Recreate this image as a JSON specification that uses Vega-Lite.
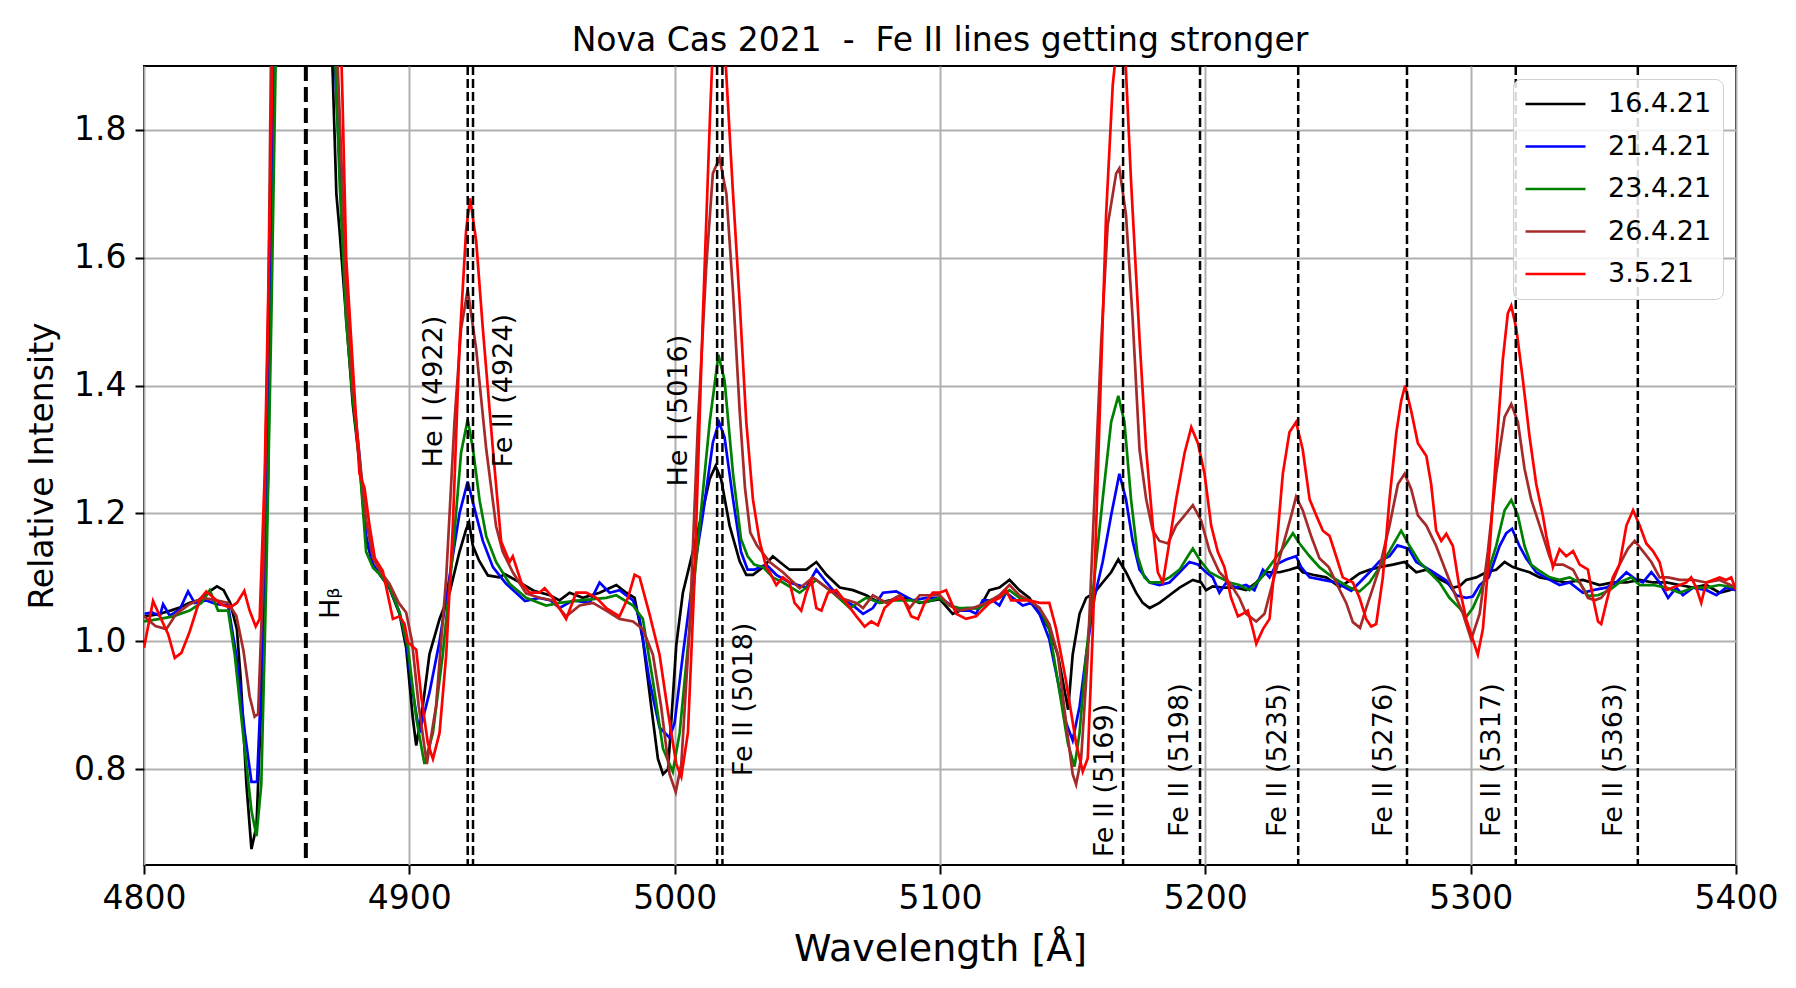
{
"$schema":"https://vega.github.io/schema/vega-lite/v6.json",
"autosize":{"type":"none"},
"padding":{"left":144,"top":66,"right":60,"bottom":123},
"width":1592,"height":799,
"background":"white",
"title":{"text":"Nova Cas 2021 \u00a0-\u00a0 Fe II lines getting stronger","fontSize":33,"font":"DejaVu Sans","fontWeight":"normal","color":"black","anchor":"middle","baseline":"alphabetic","offset":18,"dy":38,"frame":"group"},
"config":{"font":"DejaVu Sans","view":{"stroke":"black","strokeWidth":2},
"axis":{"labelFont":"DejaVu Sans","titleFont":"DejaVu Sans","labelColor":"black","titleColor":"black","titleFontWeight":"normal","tickColor":"black","tickSize":9,"tickWidth":2,"grid":true,"gridColor":"#b0b0b0","gridWidth":2,"domain":false,"labelOverlap":false}},
"datasets":{
"lines":[{"w":4922,"l":"He I (4922)","lx":4909.2,"ly":1.272},{"w":4924,"l":"Fe II (4924)","lx":4935.5,"ly":1.272},{"w":5016,"l":"He I (5016)","lx":5001.6,"ly":1.242},{"w":5018,"l":"Fe II (5018)","lx":5026.2,"ly":0.789},{"w":5169,"l":"Fe II (5169)","lx":5162.1,"ly":0.662},{"w":5198,"l":"Fe II (5198)","lx":5190.6,"ly":0.694},{"w":5235,"l":"Fe II (5235)","lx":5227.3,"ly":0.694},{"w":5276,"l":"Fe II (5276)","lx":5267.5,"ly":0.694},{"w":5317,"l":"Fe II (5317)","lx":5308.1,"ly":0.694},{"w":5363,"l":"Fe II (5363)","lx":5354.2,"ly":0.694}],
"hb":[{"w":4861,"l":"Hᵦ","lx":4870.4,"ly":1.035}],
"spec":[
{"s":"16.4.21","x":4800.2,"y":1.039},{"s":"16.4.21","x":4805,"y":1.042},{"s":"16.4.21","x":4810,"y":1.048},{"s":"16.4.21","x":4813.5,"y":1.053},{"s":"16.4.21","x":4817,"y":1.06},{"s":"16.4.21","x":4820.5,"y":1.064},{"s":"16.4.21","x":4824,"y":1.076},{"s":"16.4.21","x":4827.5,"y":1.086},{"s":"16.4.21","x":4830,"y":1.08},{"s":"16.4.21","x":4832.5,"y":1.06},{"s":"16.4.21","x":4835,"y":1.019},{"s":"16.4.21","x":4836.5,"y":0.938},{"s":"16.4.21","x":4838.6,"y":0.776},{"s":"16.4.21","x":4840.5,"y":0.675},{"s":"16.4.21","x":4842.4,"y":0.711},{"s":"16.4.21","x":4844.9,"y":0.979},{"s":"16.4.21","x":4846.8,"y":1.262},{"s":"16.4.21","x":4849,"y":2.0},{"s":"16.4.21","x":4861,"y":3.0},{"s":"16.4.21","x":4870.3,"y":2.0},{"s":"16.4.21","x":4872.5,"y":1.7},{"s":"16.4.21","x":4873.7,"y":1.643},{"s":"16.4.21","x":4876.2,"y":1.505},{"s":"16.4.21","x":4878.7,"y":1.37},{"s":"16.4.21","x":4881.2,"y":1.28},{"s":"16.4.21","x":4883.7,"y":1.16},{"s":"16.4.21","x":4886.3,"y":1.12},{"s":"16.4.21","x":4888.8,"y":1.105},{"s":"16.4.21","x":4892.5,"y":1.083},{"s":"16.4.21","x":4896.3,"y":1.043},{"s":"16.4.21","x":4898.8,"y":0.99},{"s":"16.4.21","x":4901.3,"y":0.88},{"s":"16.4.21","x":4902.6,"y":0.837},{"s":"16.4.21","x":4905.1,"y":0.9},{"s":"16.4.21","x":4907.6,"y":0.98},{"s":"16.4.21","x":4911.4,"y":1.035},{"s":"16.4.21","x":4915.1,"y":1.075},{"s":"16.4.21","x":4918.9,"y":1.14},{"s":"16.4.21","x":4921.4,"y":1.175},{"s":"16.4.21","x":4922.5,"y":1.186},{"s":"16.4.21","x":4923.9,"y":1.15},{"s":"16.4.21","x":4926.3,"y":1.126},{"s":"16.4.21","x":4929.6,"y":1.103},{"s":"16.4.21","x":4933.9,"y":1.1},{"s":"16.4.21","x":4936,"y":1.105},{"s":"16.4.21","x":4940.4,"y":1.095},{"s":"16.4.21","x":4946.9,"y":1.079},{"s":"16.4.21","x":4953,"y":1.072},{"s":"16.4.21","x":4956.6,"y":1.064},{"s":"16.4.21","x":4960.4,"y":1.076},{"s":"16.4.21","x":4965.4,"y":1.068},{"s":"16.4.21","x":4971.7,"y":1.076},{"s":"16.4.21","x":4978,"y":1.088},{"s":"16.4.21","x":4981.8,"y":1.076},{"s":"16.4.21","x":4984.9,"y":1.068},{"s":"16.4.21","x":4988,"y":1.003},{"s":"16.4.21","x":4991.2,"y":0.897},{"s":"16.4.21","x":4993.7,"y":0.816},{"s":"16.4.21","x":4995.6,"y":0.792},{"s":"16.4.21","x":4997.5,"y":0.8},{"s":"16.4.21","x":4998.7,"y":0.873},{"s":"16.4.21","x":5000.6,"y":0.994},{"s":"16.4.21","x":5003.1,"y":1.076},{"s":"16.4.21","x":5006.9,"y":1.141},{"s":"16.4.21","x":5010.6,"y":1.205},{"s":"16.4.21","x":5013.2,"y":1.254},{"s":"16.4.21","x":5015.4,"y":1.274},{"s":"16.4.21","x":5017.5,"y":1.254},{"s":"16.4.21","x":5020.7,"y":1.181},{"s":"16.4.21","x":5024.5,"y":1.125},{"s":"16.4.21","x":5027,"y":1.104},{"s":"16.4.21","x":5029.5,"y":1.104},{"s":"16.4.21","x":5033.3,"y":1.116},{"s":"16.4.21","x":5037,"y":1.133},{"s":"16.4.21","x":5039.6,"y":1.124},{"s":"16.4.21","x":5043.3,"y":1.112},{"s":"16.4.21","x":5049.6,"y":1.112},{"s":"16.4.21","x":5053.4,"y":1.124},{"s":"16.4.21","x":5057.2,"y":1.104},{"s":"16.4.21","x":5062.2,"y":1.084},{"s":"16.4.21","x":5067.2,"y":1.08},{"s":"16.4.21","x":5072.2,"y":1.072},{"s":"16.4.21","x":5077.3,"y":1.06},{"s":"16.4.21","x":5081,"y":1.064},{"s":"16.4.21","x":5087.3,"y":1.068},{"s":"16.4.21","x":5092.3,"y":1.06},{"s":"16.4.21","x":5099.9,"y":1.066},{"s":"16.4.21","x":5104.8,"y":1.043},{"s":"16.4.21","x":5109.8,"y":1.052},{"s":"16.4.21","x":5114.9,"y":1.052},{"s":"16.4.21","x":5118.6,"y":1.08},{"s":"16.4.21","x":5122.4,"y":1.084},{"s":"16.4.21","x":5126.2,"y":1.096},{"s":"16.4.21","x":5129.9,"y":1.08},{"s":"16.4.21","x":5133.7,"y":1.068},{"s":"16.4.21","x":5137.5,"y":1.043},{"s":"16.4.21","x":5141.2,"y":1.019},{"s":"16.4.21","x":5144.4,"y":0.979},{"s":"16.4.21","x":5146.3,"y":0.938},{"s":"16.4.21","x":5148.3,"y":0.893},{"s":"16.4.21","x":5150,"y":0.979},{"s":"16.4.21","x":5152.6,"y":1.043},{"s":"16.4.21","x":5155.1,"y":1.068},{"s":"16.4.21","x":5158.2,"y":1.076},{"s":"16.4.21","x":5161.3,"y":1.092},{"s":"16.4.21","x":5164.5,"y":1.108},{"s":"16.4.21","x":5167.2,"y":1.128},{"s":"16.4.21","x":5170.1,"y":1.108},{"s":"16.4.21","x":5173.9,"y":1.076},{"s":"16.4.21","x":5176.4,"y":1.06},{"s":"16.4.21","x":5179,"y":1.052},{"s":"16.4.21","x":5182.7,"y":1.06},{"s":"16.4.21","x":5186.5,"y":1.072},{"s":"16.4.21","x":5190.3,"y":1.084},{"s":"16.4.21","x":5195.3,"y":1.096},{"s":"16.4.21","x":5198.4,"y":1.092},{"s":"16.4.21","x":5200.3,"y":1.08},{"s":"16.4.21","x":5202.8,"y":1.086},{"s":"16.4.21","x":5206.6,"y":1.084},{"s":"16.4.21","x":5211.6,"y":1.084},{"s":"16.4.21","x":5215.4,"y":1.08},{"s":"16.4.21","x":5219.2,"y":1.092},{"s":"16.4.21","x":5223,"y":1.108},{"s":"16.4.21","x":5228,"y":1.108},{"s":"16.4.21","x":5231.7,"y":1.112},{"s":"16.4.21","x":5234.9,"y":1.116},{"s":"16.4.21","x":5236.7,"y":1.108},{"s":"16.4.21","x":5240.5,"y":1.104},{"s":"16.4.21","x":5245.5,"y":1.1},{"s":"16.4.21","x":5250.6,"y":1.085},{"s":"16.4.21","x":5254.4,"y":1.095},{"s":"16.4.21","x":5258.1,"y":1.106},{"s":"16.4.21","x":5261.9,"y":1.112},{"s":"16.4.21","x":5265.7,"y":1.116},{"s":"16.4.21","x":5270.7,"y":1.12},{"s":"16.4.21","x":5275.1,"y":1.124},{"s":"16.4.21","x":5279.5,"y":1.108},{"s":"16.4.21","x":5283.3,"y":1.112},{"s":"16.4.21","x":5287,"y":1.1},{"s":"16.4.21","x":5290.8,"y":1.092},{"s":"16.4.21","x":5293.3,"y":1.084},{"s":"16.4.21","x":5295.8,"y":1.086},{"s":"16.4.21","x":5298.3,"y":1.096},{"s":"16.4.21","x":5302.1,"y":1.1},{"s":"16.4.21","x":5305.9,"y":1.108},{"s":"16.4.21","x":5309.6,"y":1.112},{"s":"16.4.21","x":5312.8,"y":1.124},{"s":"16.4.21","x":5315.9,"y":1.116},{"s":"16.4.21","x":5319,"y":1.112},{"s":"16.4.21","x":5322.2,"y":1.108},{"s":"16.4.21","x":5326,"y":1.1},{"s":"16.4.21","x":5331,"y":1.096},{"s":"16.4.21","x":5336,"y":1.092},{"s":"16.4.21","x":5342.3,"y":1.096},{"s":"16.4.21","x":5348.6,"y":1.088},{"s":"16.4.21","x":5353.6,"y":1.092},{"s":"16.4.21","x":5358.7,"y":1.092},{"s":"16.4.21","x":5363.7,"y":1.096},{"s":"16.4.21","x":5368.7,"y":1.092},{"s":"16.4.21","x":5373.7,"y":1.092},{"s":"16.4.21","x":5378.8,"y":1.088},{"s":"16.4.21","x":5383.8,"y":1.084},{"s":"16.4.21","x":5388.8,"y":1.088},{"s":"16.4.21","x":5393.8,"y":1.076},{"s":"16.4.21","x":5397.6,"y":1.08},{"s":"16.4.21","x":5400,"y":1.084},
{"s":"21.4.21","x":4800.2,"y":1.043},{"s":"21.4.21","x":4803,"y":1.045},{"s":"21.4.21","x":4806,"y":1.04},{"s":"21.4.21","x":4807.2,"y":1.058},{"s":"21.4.21","x":4809.7,"y":1.04},{"s":"21.4.21","x":4813.5,"y":1.05},{"s":"21.4.21","x":4816.6,"y":1.078},{"s":"21.4.21","x":4819.1,"y":1.06},{"s":"21.4.21","x":4823.5,"y":1.064},{"s":"21.4.21","x":4827.3,"y":1.058},{"s":"21.4.21","x":4831.7,"y":1.056},{"s":"21.4.21","x":4834.8,"y":0.978},{"s":"21.4.21","x":4838,"y":0.857},{"s":"21.4.21","x":4840.5,"y":0.78},{"s":"21.4.21","x":4842.6,"y":0.78},{"s":"21.4.21","x":4844.2,"y":0.938},{"s":"21.4.21","x":4846.1,"y":1.22},{"s":"21.4.21","x":4848,"y":1.667},{"s":"21.4.21","x":4849.6,"y":1.96},{"s":"21.4.21","x":4861,"y":3.1},{"s":"21.4.21","x":4870.8,"y":2.0},{"s":"21.4.21","x":4873.7,"y":1.75},{"s":"21.4.21","x":4876.2,"y":1.52},{"s":"21.4.21","x":4878.7,"y":1.39},{"s":"21.4.21","x":4881.2,"y":1.29},{"s":"21.4.21","x":4883.7,"y":1.165},{"s":"21.4.21","x":4886.3,"y":1.12},{"s":"21.4.21","x":4888.8,"y":1.105},{"s":"21.4.21","x":4892.5,"y":1.085},{"s":"21.4.21","x":4896.3,"y":1.045},{"s":"21.4.21","x":4898.8,"y":1.0},{"s":"21.4.21","x":4901.3,"y":0.92},{"s":"21.4.21","x":4903.8,"y":0.857},{"s":"21.4.21","x":4907.6,"y":0.92},{"s":"21.4.21","x":4911.4,"y":1.0},{"s":"21.4.21","x":4915.1,"y":1.1},{"s":"21.4.21","x":4918.9,"y":1.2},{"s":"21.4.21","x":4922,"y":1.25},{"s":"21.4.21","x":4925.2,"y":1.197},{"s":"21.4.21","x":4927.7,"y":1.157},{"s":"21.4.21","x":4931.5,"y":1.116},{"s":"21.4.21","x":4936.5,"y":1.09},{"s":"21.4.21","x":4943.6,"y":1.063},{"s":"21.4.21","x":4949,"y":1.068},{"s":"21.4.21","x":4953.3,"y":1.064},{"s":"21.4.21","x":4956.6,"y":1.052},{"s":"21.4.21","x":4961.7,"y":1.064},{"s":"21.4.21","x":4967.9,"y":1.06},{"s":"21.4.21","x":4971.7,"y":1.092},{"s":"21.4.21","x":4975.5,"y":1.076},{"s":"21.4.21","x":4979.2,"y":1.08},{"s":"21.4.21","x":4984.3,"y":1.064},{"s":"21.4.21","x":4986.8,"y":1.035},{"s":"21.4.21","x":4990.5,"y":0.938},{"s":"21.4.21","x":4994.3,"y":0.865},{"s":"21.4.21","x":4998.1,"y":0.849},{"s":"21.4.21","x":5000,"y":0.873},{"s":"21.4.21","x":5003.1,"y":0.979},{"s":"21.4.21","x":5006.9,"y":1.1},{"s":"21.4.21","x":5010.6,"y":1.197},{"s":"21.4.21","x":5014.4,"y":1.311},{"s":"21.4.21","x":5016.7,"y":1.343},{"s":"21.4.21","x":5018.8,"y":1.319},{"s":"21.4.21","x":5022,"y":1.222},{"s":"21.4.21","x":5025,"y":1.14},{"s":"21.4.21","x":5027.5,"y":1.112},{"s":"21.4.21","x":5030,"y":1.112},{"s":"21.4.21","x":5034.5,"y":1.12},{"s":"21.4.21","x":5038.3,"y":1.104},{"s":"21.4.21","x":5043.3,"y":1.092},{"s":"21.4.21","x":5049.6,"y":1.084},{"s":"21.4.21","x":5053.4,"y":1.112},{"s":"21.4.21","x":5057.2,"y":1.092},{"s":"21.4.21","x":5062.2,"y":1.068},{"s":"21.4.21","x":5067.2,"y":1.056},{"s":"21.4.21","x":5071,"y":1.043},{"s":"21.4.21","x":5074.7,"y":1.052},{"s":"21.4.21","x":5078.5,"y":1.076},{"s":"21.4.21","x":5083.5,"y":1.078},{"s":"21.4.21","x":5089.8,"y":1.064},{"s":"21.4.21","x":5094.8,"y":1.068},{"s":"21.4.21","x":5099.9,"y":1.068},{"s":"21.4.21","x":5103.6,"y":1.058},{"s":"21.4.21","x":5107.3,"y":1.048},{"s":"21.4.21","x":5111.1,"y":1.048},{"s":"21.4.21","x":5113.6,"y":1.043},{"s":"21.4.21","x":5116.1,"y":1.064},{"s":"21.4.21","x":5119.9,"y":1.064},{"s":"21.4.21","x":5122.4,"y":1.056},{"s":"21.4.21","x":5124.9,"y":1.076},{"s":"21.4.21","x":5128.7,"y":1.064},{"s":"21.4.21","x":5131.2,"y":1.056},{"s":"21.4.21","x":5134.3,"y":1.06},{"s":"21.4.21","x":5137.5,"y":1.043},{"s":"21.4.21","x":5141.2,"y":1.003},{"s":"21.4.21","x":5144.4,"y":0.938},{"s":"21.4.21","x":5147.5,"y":0.873},{"s":"21.4.21","x":5150,"y":0.845},{"s":"21.4.21","x":5152.6,"y":0.898},{"s":"21.4.21","x":5155.1,"y":0.979},{"s":"21.4.21","x":5158.2,"y":1.068},{"s":"21.4.21","x":5161.3,"y":1.124},{"s":"21.4.21","x":5164.5,"y":1.197},{"s":"21.4.21","x":5167.6,"y":1.262},{"s":"21.4.21","x":5170.1,"y":1.222},{"s":"21.4.21","x":5172.6,"y":1.157},{"s":"21.4.21","x":5175.2,"y":1.112},{"s":"21.4.21","x":5179,"y":1.092},{"s":"21.4.21","x":5182.7,"y":1.088},{"s":"21.4.21","x":5186.5,"y":1.092},{"s":"21.4.21","x":5190.3,"y":1.108},{"s":"21.4.21","x":5194,"y":1.124},{"s":"21.4.21","x":5197.2,"y":1.12},{"s":"21.4.21","x":5200.3,"y":1.108},{"s":"21.4.21","x":5202.8,"y":1.1},{"s":"21.4.21","x":5205.3,"y":1.076},{"s":"21.4.21","x":5207.9,"y":1.092},{"s":"21.4.21","x":5211.6,"y":1.084},{"s":"21.4.21","x":5215.4,"y":1.088},{"s":"21.4.21","x":5218.5,"y":1.08},{"s":"21.4.21","x":5221.7,"y":1.112},{"s":"21.4.21","x":5224.2,"y":1.1},{"s":"21.4.21","x":5226.7,"y":1.12},{"s":"21.4.21","x":5230.5,"y":1.128},{"s":"21.4.21","x":5234.2,"y":1.133},{"s":"21.4.21","x":5236.1,"y":1.116},{"s":"21.4.21","x":5239.3,"y":1.1},{"s":"21.4.21","x":5244.3,"y":1.096},{"s":"21.4.21","x":5249.3,"y":1.092},{"s":"21.4.21","x":5255,"y":1.079},{"s":"21.4.21","x":5258.1,"y":1.092},{"s":"21.4.21","x":5261.9,"y":1.108},{"s":"21.4.21","x":5265.8,"y":1.126},{"s":"21.4.21","x":5269.4,"y":1.133},{"s":"21.4.21","x":5272.4,"y":1.15},{"s":"21.4.21","x":5276.6,"y":1.145},{"s":"21.4.21","x":5279.5,"y":1.124},{"s":"21.4.21","x":5285.2,"y":1.11},{"s":"21.4.21","x":5290.8,"y":1.095},{"s":"21.4.21","x":5294.6,"y":1.072},{"s":"21.4.21","x":5298.3,"y":1.068},{"s":"21.4.21","x":5300.8,"y":1.07},{"s":"21.4.21","x":5303.4,"y":1.088},{"s":"21.4.21","x":5306.8,"y":1.1},{"s":"21.4.21","x":5310.9,"y":1.149},{"s":"21.4.21","x":5313.4,"y":1.169},{"s":"21.4.21","x":5315.6,"y":1.176},{"s":"21.4.21","x":5318.4,"y":1.149},{"s":"21.4.21","x":5320.9,"y":1.13},{"s":"21.4.21","x":5324.7,"y":1.108},{"s":"21.4.21","x":5329.8,"y":1.096},{"s":"21.4.21","x":5333.5,"y":1.088},{"s":"21.4.21","x":5337.3,"y":1.092},{"s":"21.4.21","x":5342.3,"y":1.076},{"s":"21.4.21","x":5346.1,"y":1.08},{"s":"21.4.21","x":5351.1,"y":1.084},{"s":"21.4.21","x":5354.9,"y":1.092},{"s":"21.4.21","x":5358.7,"y":1.108},{"s":"21.4.21","x":5362.4,"y":1.096},{"s":"21.4.21","x":5364.9,"y":1.092},{"s":"21.4.21","x":5368.1,"y":1.108},{"s":"21.4.21","x":5371.2,"y":1.092},{"s":"21.4.21","x":5374.4,"y":1.068},{"s":"21.4.21","x":5377.5,"y":1.084},{"s":"21.4.21","x":5380,"y":1.072},{"s":"21.4.21","x":5383.8,"y":1.084},{"s":"21.4.21","x":5388.8,"y":1.08},{"s":"21.4.21","x":5392.6,"y":1.072},{"s":"21.4.21","x":5396.3,"y":1.084},{"s":"21.4.21","x":5400,"y":1.08},
{"s":"23.4.21","x":4800,"y":1.031},{"s":"23.4.21","x":4806,"y":1.035},{"s":"23.4.21","x":4811,"y":1.039},{"s":"23.4.21","x":4817.2,"y":1.048},{"s":"23.4.21","x":4821.6,"y":1.06},{"s":"23.4.21","x":4824.8,"y":1.08},{"s":"23.4.21","x":4827.9,"y":1.048},{"s":"23.4.21","x":4831.7,"y":1.048},{"s":"23.4.21","x":4834.2,"y":0.979},{"s":"23.4.21","x":4837.3,"y":0.857},{"s":"23.4.21","x":4840.5,"y":0.735},{"s":"23.4.21","x":4842.4,"y":0.695},{"s":"23.4.21","x":4844.2,"y":0.776},{"s":"23.4.21","x":4846.1,"y":1.1},{"s":"23.4.21","x":4848,"y":1.505},{"s":"23.4.21","x":4850,"y":2.0},{"s":"23.4.21","x":4861,"y":3.2},{"s":"23.4.21","x":4871.3,"y":2.0},{"s":"23.4.21","x":4873.7,"y":1.72},{"s":"23.4.21","x":4876.2,"y":1.5},{"s":"23.4.21","x":4878.7,"y":1.38},{"s":"23.4.21","x":4881.2,"y":1.28},{"s":"23.4.21","x":4883.7,"y":1.14},{"s":"23.4.21","x":4886.3,"y":1.115},{"s":"23.4.21","x":4888.8,"y":1.105},{"s":"23.4.21","x":4892.5,"y":1.085},{"s":"23.4.21","x":4896.3,"y":1.045},{"s":"23.4.21","x":4899.5,"y":0.99},{"s":"23.4.21","x":4902.6,"y":0.88},{"s":"23.4.21","x":4905.7,"y":0.808},{"s":"23.4.21","x":4908.9,"y":0.857},{"s":"23.4.21","x":4912.6,"y":0.979},{"s":"23.4.21","x":4916.4,"y":1.14},{"s":"23.4.21","x":4919.5,"y":1.295},{"s":"23.4.21","x":4922,"y":1.347},{"s":"23.4.21","x":4924,"y":1.3},{"s":"23.4.21","x":4926.5,"y":1.22},{"s":"23.4.21","x":4929,"y":1.164},{"s":"23.4.21","x":4932.7,"y":1.124},{"s":"23.4.21","x":4937.8,"y":1.09},{"s":"23.4.21","x":4944,"y":1.068},{"s":"23.4.21","x":4949,"y":1.06},{"s":"23.4.21","x":4951.6,"y":1.056},{"s":"23.4.21","x":4956.6,"y":1.06},{"s":"23.4.21","x":4964.2,"y":1.064},{"s":"23.4.21","x":4974.2,"y":1.068},{"s":"23.4.21","x":4978,"y":1.072},{"s":"23.4.21","x":4984.3,"y":1.056},{"s":"23.4.21","x":4988,"y":1.035},{"s":"23.4.21","x":4991.8,"y":0.938},{"s":"23.4.21","x":4995.6,"y":0.832},{"s":"23.4.21","x":4999.3,"y":0.796},{"s":"23.4.21","x":5001.9,"y":0.857},{"s":"23.4.21","x":5005.6,"y":1.019},{"s":"23.4.21","x":5009.4,"y":1.181},{"s":"23.4.21","x":5013.2,"y":1.343},{"s":"23.4.21","x":5016.5,"y":1.448},{"s":"23.4.21","x":5018.8,"y":1.408},{"s":"23.4.21","x":5022,"y":1.262},{"s":"23.4.21","x":5025,"y":1.16},{"s":"23.4.21","x":5027.5,"y":1.133},{"s":"23.4.21","x":5030,"y":1.12},{"s":"23.4.21","x":5033.3,"y":1.116},{"s":"23.4.21","x":5037,"y":1.1},{"s":"23.4.21","x":5040.8,"y":1.092},{"s":"23.4.21","x":5047.1,"y":1.076},{"s":"23.4.21","x":5053.4,"y":1.096},{"s":"23.4.21","x":5059.7,"y":1.076},{"s":"23.4.21","x":5066,"y":1.052},{"s":"23.4.21","x":5072.2,"y":1.068},{"s":"23.4.21","x":5077.3,"y":1.06},{"s":"23.4.21","x":5082.3,"y":1.064},{"s":"23.4.21","x":5089,"y":1.064},{"s":"23.4.21","x":5094,"y":1.06},{"s":"23.4.21","x":5099.9,"y":1.068},{"s":"23.4.21","x":5103.6,"y":1.056},{"s":"23.4.21","x":5107.3,"y":1.052},{"s":"23.4.21","x":5114.9,"y":1.052},{"s":"23.4.21","x":5118.6,"y":1.064},{"s":"23.4.21","x":5122.4,"y":1.068},{"s":"23.4.21","x":5126.2,"y":1.08},{"s":"23.4.21","x":5129.9,"y":1.068},{"s":"23.4.21","x":5133.7,"y":1.064},{"s":"23.4.21","x":5137.5,"y":1.052},{"s":"23.4.21","x":5141.2,"y":1.019},{"s":"23.4.21","x":5145,"y":0.922},{"s":"23.4.21","x":5148.2,"y":0.84},{"s":"23.4.21","x":5150.7,"y":0.804},{"s":"23.4.21","x":5152.6,"y":0.857},{"s":"23.4.21","x":5155.1,"y":0.979},{"s":"23.4.21","x":5158.2,"y":1.1},{"s":"23.4.21","x":5161.3,"y":1.222},{"s":"23.4.21","x":5164.5,"y":1.343},{"s":"23.4.21","x":5167.2,"y":1.384},{"s":"23.4.21","x":5169.5,"y":1.343},{"s":"23.4.21","x":5172,"y":1.222},{"s":"23.4.21","x":5174.5,"y":1.133},{"s":"23.4.21","x":5177,"y":1.1},{"s":"23.4.21","x":5179,"y":1.092},{"s":"23.4.21","x":5182.7,"y":1.092},{"s":"23.4.21","x":5186.5,"y":1.1},{"s":"23.4.21","x":5190.3,"y":1.112},{"s":"23.4.21","x":5193.4,"y":1.133},{"s":"23.4.21","x":5195.3,"y":1.145},{"s":"23.4.21","x":5197.8,"y":1.128},{"s":"23.4.21","x":5201.6,"y":1.108},{"s":"23.4.21","x":5205.3,"y":1.1},{"s":"23.4.21","x":5209.1,"y":1.092},{"s":"23.4.21","x":5212.8,"y":1.088},{"s":"23.4.21","x":5216.6,"y":1.08},{"s":"23.4.21","x":5220.4,"y":1.096},{"s":"23.4.21","x":5225.4,"y":1.124},{"s":"23.4.21","x":5229.2,"y":1.145},{"s":"23.4.21","x":5233,"y":1.169},{"s":"23.4.21","x":5235.5,"y":1.153},{"s":"23.4.21","x":5239.3,"y":1.133},{"s":"23.4.21","x":5243,"y":1.116},{"s":"23.4.21","x":5248,"y":1.1},{"s":"23.4.21","x":5254.4,"y":1.084},{"s":"23.4.21","x":5258.1,"y":1.078},{"s":"23.4.21","x":5261.9,"y":1.092},{"s":"23.4.21","x":5265.7,"y":1.116},{"s":"23.4.21","x":5269.4,"y":1.141},{"s":"23.4.21","x":5273.8,"y":1.173},{"s":"23.4.21","x":5277,"y":1.149},{"s":"23.4.21","x":5280.7,"y":1.124},{"s":"23.4.21","x":5284.5,"y":1.108},{"s":"23.4.21","x":5288.3,"y":1.092},{"s":"23.4.21","x":5292,"y":1.068},{"s":"23.4.21","x":5295.8,"y":1.052},{"s":"23.4.21","x":5298.3,"y":1.038},{"s":"23.4.21","x":5300.8,"y":1.052},{"s":"23.4.21","x":5303.4,"y":1.076},{"s":"23.4.21","x":5306.5,"y":1.108},{"s":"23.4.21","x":5309.6,"y":1.149},{"s":"23.4.21","x":5312.8,"y":1.205},{"s":"23.4.21","x":5315.3,"y":1.221},{"s":"23.4.21","x":5317.8,"y":1.197},{"s":"23.4.21","x":5320.3,"y":1.149},{"s":"23.4.21","x":5322.8,"y":1.12},{"s":"23.4.21","x":5326,"y":1.11},{"s":"23.4.21","x":5329.8,"y":1.1},{"s":"23.4.21","x":5333.5,"y":1.096},{"s":"23.4.21","x":5337.3,"y":1.1},{"s":"23.4.21","x":5341.1,"y":1.092},{"s":"23.4.21","x":5344.2,"y":1.071},{"s":"23.4.21","x":5348,"y":1.072},{"s":"23.4.21","x":5352.4,"y":1.08},{"s":"23.4.21","x":5356.1,"y":1.092},{"s":"23.4.21","x":5360.5,"y":1.1},{"s":"23.4.21","x":5363.7,"y":1.088},{"s":"23.4.21","x":5368.7,"y":1.088},{"s":"23.4.21","x":5373.7,"y":1.084},{"s":"23.4.21","x":5378.8,"y":1.076},{"s":"23.4.21","x":5383.8,"y":1.084},{"s":"23.4.21","x":5388.8,"y":1.084},{"s":"23.4.21","x":5393.8,"y":1.088},{"s":"23.4.21","x":5400,"y":1.084},
{"s":"26.4.21","x":4800,"y":1.039},{"s":"26.4.21","x":4804.3,"y":1.024},{"s":"26.4.21","x":4808.4,"y":1.019},{"s":"26.4.21","x":4812.2,"y":1.043},{"s":"26.4.21","x":4817.2,"y":1.058},{"s":"26.4.21","x":4822.3,"y":1.068},{"s":"26.4.21","x":4827.3,"y":1.064},{"s":"26.4.21","x":4831.7,"y":1.06},{"s":"26.4.21","x":4834.8,"y":1.04},{"s":"26.4.21","x":4837.5,"y":0.985},{"s":"26.4.21","x":4839.8,"y":0.914},{"s":"26.4.21","x":4841.7,"y":0.882},{"s":"26.4.21","x":4843,"y":0.886},{"s":"26.4.21","x":4844.9,"y":1.1},{"s":"26.4.21","x":4846.8,"y":1.505},{"s":"26.4.21","x":4848,"y":1.97},{"s":"26.4.21","x":4861,"y":3.4},{"s":"26.4.21","x":4872,"y":2.0},{"s":"26.4.21","x":4873.7,"y":1.83},{"s":"26.4.21","x":4876.2,"y":1.55},{"s":"26.4.21","x":4878.7,"y":1.4},{"s":"26.4.21","x":4881.2,"y":1.29},{"s":"26.4.21","x":4883.7,"y":1.19},{"s":"26.4.21","x":4886.3,"y":1.13},{"s":"26.4.21","x":4889,"y":1.11},{"s":"26.4.21","x":4892.5,"y":1.09},{"s":"26.4.21","x":4896,"y":1.06},{"s":"26.4.21","x":4898.8,"y":1.045},{"s":"26.4.21","x":4901,"y":1.0},{"s":"26.4.21","x":4903.5,"y":0.9},{"s":"26.4.21","x":4906.6,"y":0.808},{"s":"26.4.21","x":4910.1,"y":0.9},{"s":"26.4.21","x":4913.9,"y":1.1},{"s":"26.4.21","x":4917,"y":1.343},{"s":"26.4.21","x":4919.5,"y":1.489},{"s":"26.4.21","x":4922,"y":1.55},{"s":"26.4.21","x":4925.2,"y":1.457},{"s":"26.4.21","x":4929,"y":1.3},{"s":"26.4.21","x":4932.7,"y":1.18},{"s":"26.4.21","x":4935.2,"y":1.14},{"s":"26.4.21","x":4939,"y":1.108},{"s":"26.4.21","x":4944,"y":1.075},{"s":"26.4.21","x":4949,"y":1.068},{"s":"26.4.21","x":4954.1,"y":1.064},{"s":"26.4.21","x":4959.1,"y":1.039},{"s":"26.4.21","x":4964.2,"y":1.056},{"s":"26.4.21","x":4969.2,"y":1.06},{"s":"26.4.21","x":4974.2,"y":1.048},{"s":"26.4.21","x":4979.2,"y":1.035},{"s":"26.4.21","x":4984.3,"y":1.031},{"s":"26.4.21","x":4988,"y":1.019},{"s":"26.4.21","x":4991.8,"y":0.979},{"s":"26.4.21","x":4994.9,"y":0.898},{"s":"26.4.21","x":4998.1,"y":0.792},{"s":"26.4.21","x":5000.4,"y":0.764},{"s":"26.4.21","x":5002.5,"y":0.808},{"s":"26.4.21","x":5005.6,"y":1.019},{"s":"26.4.21","x":5008.8,"y":1.343},{"s":"26.4.21","x":5011.9,"y":1.586},{"s":"26.4.21","x":5014.4,"y":1.732},{"s":"26.4.21","x":5016.9,"y":1.756},{"s":"26.4.21","x":5019.5,"y":1.7},{"s":"26.4.21","x":5022,"y":1.546},{"s":"26.4.21","x":5024.5,"y":1.36},{"s":"26.4.21","x":5026.5,"y":1.24},{"s":"26.4.21","x":5028.5,"y":1.17},{"s":"26.4.21","x":5031,"y":1.15},{"s":"26.4.21","x":5035.8,"y":1.124},{"s":"26.4.21","x":5040.8,"y":1.108},{"s":"26.4.21","x":5047.1,"y":1.083},{"s":"26.4.21","x":5052.1,"y":1.1},{"s":"26.4.21","x":5057.2,"y":1.084},{"s":"26.4.21","x":5062.2,"y":1.068},{"s":"26.4.21","x":5068.5,"y":1.06},{"s":"26.4.21","x":5071,"y":1.052},{"s":"26.4.21","x":5074.7,"y":1.072},{"s":"26.4.21","x":5079.8,"y":1.06},{"s":"26.4.21","x":5084.8,"y":1.072},{"s":"26.4.21","x":5088.6,"y":1.052},{"s":"26.4.21","x":5092.3,"y":1.072},{"s":"26.4.21","x":5099.9,"y":1.072},{"s":"26.4.21","x":5103.6,"y":1.056},{"s":"26.4.21","x":5107.3,"y":1.048},{"s":"26.4.21","x":5112.4,"y":1.052},{"s":"26.4.21","x":5117.4,"y":1.06},{"s":"26.4.21","x":5122.4,"y":1.072},{"s":"26.4.21","x":5126.2,"y":1.088},{"s":"26.4.21","x":5129.9,"y":1.072},{"s":"26.4.21","x":5133.7,"y":1.064},{"s":"26.4.21","x":5137.5,"y":1.052},{"s":"26.4.21","x":5141.2,"y":1.027},{"s":"26.4.21","x":5144.4,"y":0.979},{"s":"26.4.21","x":5147.5,"y":0.873},{"s":"26.4.21","x":5150,"y":0.792},{"s":"26.4.21","x":5151.3,"y":0.776},{"s":"26.4.21","x":5153.2,"y":0.817},{"s":"26.4.21","x":5155.7,"y":0.979},{"s":"26.4.21","x":5158.2,"y":1.222},{"s":"26.4.21","x":5160.7,"y":1.464},{"s":"26.4.21","x":5163.2,"y":1.651},{"s":"26.4.21","x":5166.4,"y":1.732},{"s":"26.4.21","x":5167.6,"y":1.74},{"s":"26.4.21","x":5170.1,"y":1.667},{"s":"26.4.21","x":5172.6,"y":1.505},{"s":"26.4.21","x":5175.2,"y":1.3},{"s":"26.4.21","x":5177.7,"y":1.222},{"s":"26.4.21","x":5180.2,"y":1.173},{"s":"26.4.21","x":5182.7,"y":1.157},{"s":"26.4.21","x":5185.9,"y":1.153},{"s":"26.4.21","x":5189,"y":1.181},{"s":"26.4.21","x":5192.2,"y":1.197},{"s":"26.4.21","x":5195.3,"y":1.213},{"s":"26.4.21","x":5198.4,"y":1.189},{"s":"26.4.21","x":5201.6,"y":1.141},{"s":"26.4.21","x":5205.3,"y":1.108},{"s":"26.4.21","x":5209.1,"y":1.092},{"s":"26.4.21","x":5212.8,"y":1.068},{"s":"26.4.21","x":5215.4,"y":1.043},{"s":"26.4.21","x":5219.2,"y":1.031},{"s":"26.4.21","x":5222.3,"y":1.043},{"s":"26.4.21","x":5225.4,"y":1.092},{"s":"26.4.21","x":5229.2,"y":1.149},{"s":"26.4.21","x":5232.4,"y":1.197},{"s":"26.4.21","x":5234.2,"y":1.226},{"s":"26.4.21","x":5236.7,"y":1.205},{"s":"26.4.21","x":5240,"y":1.163},{"s":"26.4.21","x":5243,"y":1.13},{"s":"26.4.21","x":5246.5,"y":1.116},{"s":"26.4.21","x":5250.8,"y":1.079},{"s":"26.4.21","x":5253.1,"y":1.06},{"s":"26.4.21","x":5255.6,"y":1.03},{"s":"26.4.21","x":5258.3,"y":1.021},{"s":"26.4.21","x":5260.6,"y":1.052},{"s":"26.4.21","x":5263.2,"y":1.084},{"s":"26.4.21","x":5265.7,"y":1.116},{"s":"26.4.21","x":5269.4,"y":1.181},{"s":"26.4.21","x":5272.6,"y":1.246},{"s":"26.4.21","x":5275.1,"y":1.262},{"s":"26.4.21","x":5277.6,"y":1.238},{"s":"26.4.21","x":5280.1,"y":1.197},{"s":"26.4.21","x":5283.3,"y":1.181},{"s":"26.4.21","x":5287,"y":1.149},{"s":"26.4.21","x":5290.8,"y":1.108},{"s":"26.4.21","x":5294.6,"y":1.068},{"s":"26.4.21","x":5297.1,"y":1.043},{"s":"26.4.21","x":5300.2,"y":1.003},{"s":"26.4.21","x":5303.4,"y":1.043},{"s":"26.4.21","x":5306.5,"y":1.141},{"s":"26.4.21","x":5309.6,"y":1.262},{"s":"26.4.21","x":5312.8,"y":1.351},{"s":"26.4.21","x":5315.3,"y":1.371},{"s":"26.4.21","x":5317.8,"y":1.343},{"s":"26.4.21","x":5320.3,"y":1.27},{"s":"26.4.21","x":5322.8,"y":1.222},{"s":"26.4.21","x":5326,"y":1.181},{"s":"26.4.21","x":5329.7,"y":1.133},{"s":"26.4.21","x":5331,"y":1.12},{"s":"26.4.21","x":5334.8,"y":1.12},{"s":"26.4.21","x":5338.6,"y":1.112},{"s":"26.4.21","x":5341.1,"y":1.092},{"s":"26.4.21","x":5344.2,"y":1.068},{"s":"26.4.21","x":5346.7,"y":1.064},{"s":"26.4.21","x":5349.2,"y":1.068},{"s":"26.4.21","x":5353,"y":1.088},{"s":"26.4.21","x":5356.1,"y":1.12},{"s":"26.4.21","x":5359.3,"y":1.145},{"s":"26.4.21","x":5361.8,"y":1.157},{"s":"26.4.21","x":5364.9,"y":1.141},{"s":"26.4.21","x":5368.1,"y":1.124},{"s":"26.4.21","x":5371.2,"y":1.1},{"s":"26.4.21","x":5374.4,"y":1.1},{"s":"26.4.21","x":5378.8,"y":1.096},{"s":"26.4.21","x":5383.8,"y":1.096},{"s":"26.4.21","x":5388.8,"y":1.092},{"s":"26.4.21","x":5393.8,"y":1.096},{"s":"26.4.21","x":5400,"y":1.084},
{"s":"3.5.21","x":4800,"y":0.99},{"s":"3.5.21","x":4803.4,"y":1.063},{"s":"3.5.21","x":4806,"y":1.039},{"s":"3.5.21","x":4809.1,"y":1.011},{"s":"3.5.21","x":4811.6,"y":0.974},{"s":"3.5.21","x":4814.1,"y":0.982},{"s":"3.5.21","x":4817.2,"y":1.015},{"s":"3.5.21","x":4821,"y":1.065},{"s":"3.5.21","x":4823.5,"y":1.078},{"s":"3.5.21","x":4826,"y":1.069},{"s":"3.5.21","x":4829,"y":1.058},{"s":"3.5.21","x":4832.4,"y":1.053},{"s":"3.5.21","x":4835,"y":1.06},{"s":"3.5.21","x":4837.8,"y":1.079},{"s":"3.5.21","x":4839.8,"y":1.048},{"s":"3.5.21","x":4842.1,"y":1.023},{"s":"3.5.21","x":4843.6,"y":1.035},{"s":"3.5.21","x":4845.5,"y":1.262},{"s":"3.5.21","x":4847.4,"y":1.667},{"s":"3.5.21","x":4848.6,"y":1.96},{"s":"3.5.21","x":4861,"y":3.6},{"s":"3.5.21","x":4873.8,"y":2.0},{"s":"3.5.21","x":4874.8,"y":1.85},{"s":"3.5.21","x":4876.2,"y":1.6},{"s":"3.5.21","x":4878.7,"y":1.43},{"s":"3.5.21","x":4881.2,"y":1.262},{"s":"3.5.21","x":4883.1,"y":1.24},{"s":"3.5.21","x":4885,"y":1.181},{"s":"3.5.21","x":4887,"y":1.13},{"s":"3.5.21","x":4890,"y":1.11},{"s":"3.5.21","x":4893.8,"y":1.035},{"s":"3.5.21","x":4896.3,"y":1.039},{"s":"3.5.21","x":4898.2,"y":1.027},{"s":"3.5.21","x":4899.5,"y":0.998},{"s":"3.5.21","x":4902.6,"y":0.987},{"s":"3.5.21","x":4904.5,"y":0.913},{"s":"3.5.21","x":4907,"y":0.84},{"s":"3.5.21","x":4908.9,"y":0.816},{"s":"3.5.21","x":4911.4,"y":0.857},{"s":"3.5.21","x":4913.9,"y":0.979},{"s":"3.5.21","x":4916.4,"y":1.181},{"s":"3.5.21","x":4918.9,"y":1.464},{"s":"3.5.21","x":4921.4,"y":1.643},{"s":"3.5.21","x":4922.9,"y":1.693},{"s":"3.5.21","x":4925.2,"y":1.626},{"s":"3.5.21","x":4927.7,"y":1.489},{"s":"3.5.21","x":4931.5,"y":1.3},{"s":"3.5.21","x":4934.6,"y":1.156},{"s":"3.5.21","x":4937.8,"y":1.124},{"s":"3.5.21","x":4939,"y":1.133},{"s":"3.5.21","x":4942.2,"y":1.092},{"s":"3.5.21","x":4945.3,"y":1.076},{"s":"3.5.21","x":4949,"y":1.076},{"s":"3.5.21","x":4951,"y":1.083},{"s":"3.5.21","x":4954.1,"y":1.068},{"s":"3.5.21","x":4959.1,"y":1.035},{"s":"3.5.21","x":4962.9,"y":1.076},{"s":"3.5.21","x":4966.7,"y":1.076},{"s":"3.5.21","x":4970.5,"y":1.068},{"s":"3.5.21","x":4974.2,"y":1.052},{"s":"3.5.21","x":4979.2,"y":1.039},{"s":"3.5.21","x":4982.4,"y":1.068},{"s":"3.5.21","x":4984.9,"y":1.104},{"s":"3.5.21","x":4986.8,"y":1.1},{"s":"3.5.21","x":4990.5,"y":1.043},{"s":"3.5.21","x":4994.3,"y":0.979},{"s":"3.5.21","x":4997.5,"y":0.889},{"s":"3.5.21","x":5000.6,"y":0.808},{"s":"3.5.21","x":5002.5,"y":0.788},{"s":"3.5.21","x":5005,"y":0.857},{"s":"3.5.21","x":5007.5,"y":1.1},{"s":"3.5.21","x":5010.6,"y":1.505},{"s":"3.5.21","x":5013.4,"y":1.83},{"s":"3.5.21","x":5014.6,"y":1.95},{"s":"3.5.21","x":5016.5,"y":2.1},{"s":"3.5.21","x":5018.6,"y":1.95},{"s":"3.5.21","x":5022,"y":1.7},{"s":"3.5.21","x":5024.5,"y":1.53},{"s":"3.5.21","x":5027,"y":1.343},{"s":"3.5.21","x":5029.5,"y":1.222},{"s":"3.5.21","x":5032,"y":1.157},{"s":"3.5.21","x":5034.5,"y":1.116},{"s":"3.5.21","x":5035.8,"y":1.108},{"s":"3.5.21","x":5038.3,"y":1.088},{"s":"3.5.21","x":5040.8,"y":1.1},{"s":"3.5.21","x":5043.3,"y":1.092},{"s":"3.5.21","x":5045.2,"y":1.06},{"s":"3.5.21","x":5047.7,"y":1.048},{"s":"3.5.21","x":5049.6,"y":1.076},{"s":"3.5.21","x":5051.5,"y":1.096},{"s":"3.5.21","x":5053.4,"y":1.052},{"s":"3.5.21","x":5055.3,"y":1.048},{"s":"3.5.21","x":5057.8,"y":1.076},{"s":"3.5.21","x":5060.9,"y":1.08},{"s":"3.5.21","x":5064.7,"y":1.06},{"s":"3.5.21","x":5068.5,"y":1.039},{"s":"3.5.21","x":5071.6,"y":1.023},{"s":"3.5.21","x":5074.1,"y":1.031},{"s":"3.5.21","x":5076.6,"y":1.025},{"s":"3.5.21","x":5079.1,"y":1.052},{"s":"3.5.21","x":5082.3,"y":1.064},{"s":"3.5.21","x":5086,"y":1.068},{"s":"3.5.21","x":5089.2,"y":1.039},{"s":"3.5.21","x":5091.7,"y":1.035},{"s":"3.5.21","x":5094.2,"y":1.06},{"s":"3.5.21","x":5097.3,"y":1.076},{"s":"3.5.21","x":5099.9,"y":1.076},{"s":"3.5.21","x":5102.3,"y":1.08},{"s":"3.5.21","x":5106.1,"y":1.043},{"s":"3.5.21","x":5109.8,"y":1.035},{"s":"3.5.21","x":5113.6,"y":1.039},{"s":"3.5.21","x":5118.6,"y":1.06},{"s":"3.5.21","x":5122.4,"y":1.068},{"s":"3.5.21","x":5124.9,"y":1.08},{"s":"3.5.21","x":5126.8,"y":1.064},{"s":"3.5.21","x":5129.9,"y":1.064},{"s":"3.5.21","x":5133.7,"y":1.064},{"s":"3.5.21","x":5137.5,"y":1.06},{"s":"3.5.21","x":5141.2,"y":1.06},{"s":"3.5.21","x":5143.8,"y":1.019},{"s":"3.5.21","x":5147.5,"y":0.938},{"s":"3.5.21","x":5151.3,"y":0.84},{"s":"3.5.21","x":5153.8,"y":0.796},{"s":"3.5.21","x":5155.7,"y":0.817},{"s":"3.5.21","x":5157.6,"y":1.019},{"s":"3.5.21","x":5160.1,"y":1.343},{"s":"3.5.21","x":5162.6,"y":1.667},{"s":"3.5.21","x":5165.1,"y":1.87},{"s":"3.5.21","x":5166.6,"y":1.93},{"s":"3.5.21","x":5168.3,"y":1.96},{"s":"3.5.21","x":5170,"y":1.9},{"s":"3.5.21","x":5172,"y":1.72},{"s":"3.5.21","x":5175.2,"y":1.473},{"s":"3.5.21","x":5177.7,"y":1.3},{"s":"3.5.21","x":5180.2,"y":1.181},{"s":"3.5.21","x":5182.1,"y":1.108},{"s":"3.5.21","x":5184,"y":1.092},{"s":"3.5.21","x":5185.9,"y":1.141},{"s":"3.5.21","x":5189,"y":1.222},{"s":"3.5.21","x":5192.2,"y":1.295},{"s":"3.5.21","x":5194.7,"y":1.335},{"s":"3.5.21","x":5197.2,"y":1.31},{"s":"3.5.21","x":5199.7,"y":1.262},{"s":"3.5.21","x":5202.2,"y":1.181},{"s":"3.5.21","x":5204.7,"y":1.14},{"s":"3.5.21","x":5207.2,"y":1.116},{"s":"3.5.21","x":5209.7,"y":1.068},{"s":"3.5.21","x":5212.3,"y":1.039},{"s":"3.5.21","x":5214.1,"y":1.043},{"s":"3.5.21","x":5216,"y":1.048},{"s":"3.5.21","x":5217.9,"y":1.019},{"s":"3.5.21","x":5219.2,"y":0.996},{"s":"3.5.21","x":5221.7,"y":1.019},{"s":"3.5.21","x":5224.2,"y":1.035},{"s":"3.5.21","x":5226.7,"y":1.141},{"s":"3.5.21","x":5229.2,"y":1.262},{"s":"3.5.21","x":5231.7,"y":1.327},{"s":"3.5.21","x":5234.2,"y":1.343},{"s":"3.5.21","x":5236.7,"y":1.3},{"s":"3.5.21","x":5239.3,"y":1.222},{"s":"3.5.21","x":5241.8,"y":1.197},{"s":"3.5.21","x":5244.3,"y":1.173},{"s":"3.5.21","x":5246.8,"y":1.165},{"s":"3.5.21","x":5249.3,"y":1.133},{"s":"3.5.21","x":5251.8,"y":1.1},{"s":"3.5.21","x":5255.6,"y":1.092},{"s":"3.5.21","x":5258.1,"y":1.068},{"s":"3.5.21","x":5260.6,"y":1.035},{"s":"3.5.21","x":5262.5,"y":1.023},{"s":"3.5.21","x":5264.4,"y":1.027},{"s":"3.5.21","x":5266.9,"y":1.1},{"s":"3.5.21","x":5269.4,"y":1.222},{"s":"3.5.21","x":5272,"y":1.327},{"s":"3.5.21","x":5273.8,"y":1.376},{"s":"3.5.21","x":5275.3,"y":1.4},{"s":"3.5.21","x":5277.6,"y":1.36},{"s":"3.5.21","x":5280.1,"y":1.31},{"s":"3.5.21","x":5283.3,"y":1.29},{"s":"3.5.21","x":5285.1,"y":1.246},{"s":"3.5.21","x":5287,"y":1.173},{"s":"3.5.21","x":5288.9,"y":1.157},{"s":"3.5.21","x":5290.8,"y":1.168},{"s":"3.5.21","x":5293.3,"y":1.149},{"s":"3.5.21","x":5295.8,"y":1.083},{"s":"3.5.21","x":5298.3,"y":1.035},{"s":"3.5.21","x":5300.8,"y":1.003},{"s":"3.5.21","x":5302.7,"y":0.979},{"s":"3.5.21","x":5304.6,"y":1.019},{"s":"3.5.21","x":5307.1,"y":1.141},{"s":"3.5.21","x":5309.6,"y":1.295},{"s":"3.5.21","x":5312.1,"y":1.44},{"s":"3.5.21","x":5314,"y":1.513},{"s":"3.5.21","x":5315.3,"y":1.525},{"s":"3.5.21","x":5317.2,"y":1.489},{"s":"3.5.21","x":5319.7,"y":1.408},{"s":"3.5.21","x":5322.2,"y":1.32},{"s":"3.5.21","x":5324.7,"y":1.246},{"s":"3.5.21","x":5327.2,"y":1.197},{"s":"3.5.21","x":5328.5,"y":1.165},{"s":"3.5.21","x":5331,"y":1.116},{"s":"3.5.21","x":5333.5,"y":1.144},{"s":"3.5.21","x":5336,"y":1.133},{"s":"3.5.21","x":5338.6,"y":1.141},{"s":"3.5.21","x":5341.1,"y":1.12},{"s":"3.5.21","x":5344.2,"y":1.112},{"s":"3.5.21","x":5346.1,"y":1.068},{"s":"3.5.21","x":5348,"y":1.031},{"s":"3.5.21","x":5349.2,"y":1.027},{"s":"3.5.21","x":5351.1,"y":1.06},{"s":"3.5.21","x":5353.6,"y":1.1},{"s":"3.5.21","x":5356.1,"y":1.12},{"s":"3.5.21","x":5358.7,"y":1.181},{"s":"3.5.21","x":5361.2,"y":1.205},{"s":"3.5.21","x":5363.7,"y":1.181},{"s":"3.5.21","x":5366.2,"y":1.153},{"s":"3.5.21","x":5368.7,"y":1.141},{"s":"3.5.21","x":5371.2,"y":1.124},{"s":"3.5.21","x":5373.7,"y":1.08},{"s":"3.5.21","x":5376.2,"y":1.084},{"s":"3.5.21","x":5378.8,"y":1.088},{"s":"3.5.21","x":5381.3,"y":1.092},{"s":"3.5.21","x":5383.1,"y":1.1},{"s":"3.5.21","x":5385,"y":1.084},{"s":"3.5.21","x":5386.9,"y":1.06},{"s":"3.5.21","x":5388.8,"y":1.092},{"s":"3.5.21","x":5391.3,"y":1.096},{"s":"3.5.21","x":5393.8,"y":1.1},{"s":"3.5.21","x":5396.3,"y":1.096},{"s":"3.5.21","x":5398.2,"y":1.1},{"s":"3.5.21","x":5400,"y":1.08}
]},
"layer":[
{"data":{"name":"spec"},"mark":{"type":"line","clip":true,"strokeWidth":2.7},
"encoding":{
"x":{"field":"x","type":"quantitative","title":"Wavelength [Å]","scale":{"domain":[4800,5400],"nice":false,"zero":false},"axis":{"values":[4800,4900,5000,5100,5200,5300,5400],"format":"d","labelFlush":false,"labelFontSize":33,"titleFontSize":38,"labelPadding":8,"titlePadding":15}},
"y":{"field":"y","type":"quantitative","title":"Relative Intensity","scale":{"domain":[0.65,1.9],"nice":false,"zero":false},"axis":{"values":[0.8,1.0,1.2,1.4,1.6,1.8],"format":".1f","labelFontSize":33,"titleFontSize":33,"labelPadding":9,"titlePadding":14}},
"color":{"field":"s","type":"nominal","scale":{"domain":["16.4.21","21.4.21","23.4.21","26.4.21","3.5.21"],"range":["#000000","#0000ff","#008000","#a52a2a","#ff0000"]},
"legend":{"title":null,"orient":"top-right","offset":13,"padding":11,"symbolType":"stroke","symbolSize":3600,"symbolStrokeWidth":2.7,"clipHeight":28,"labelFontSize":27,"labelFont":"DejaVu Sans","labelColor":"black","labelOffset":21,"rowPadding":14.5,"strokeColor":"#d0d0d0","fillColor":"rgba(255,255,255,0.85)","cornerRadius":8,"labelLimit":400}}}},
{"data":{"name":"lines"},"mark":{"type":"rule","strokeDash":[9,4],"strokeWidth":2.5,"color":"black"},
"encoding":{"x":{"field":"w","type":"quantitative","title":"Wavelength [Å]"}}},
{"data":{"name":"hb"},"mark":{"type":"rule","strokeDash":[15,6],"strokeWidth":4,"color":"black"},
"encoding":{"x":{"field":"w","type":"quantitative","title":"Wavelength [Å]"}}},
{"data":{"name":"lines"},"mark":{"type":"text","angle":270,"align":"left","baseline":"middle","fontSize":27,"font":"DejaVu Sans","color":"black"},
"encoding":{"x":{"field":"lx","type":"quantitative","title":"Wavelength [Å]"},"y":{"field":"ly","type":"quantitative","title":"Relative Intensity"},"text":{"field":"l"}}},
{"data":{"name":"hb"},"mark":{"type":"text","angle":270,"align":"left","baseline":"middle","fontSize":27,"font":"DejaVu Sans","color":"black"},
"encoding":{"x":{"field":"lx","type":"quantitative","title":"Wavelength [Å]"},"y":{"field":"ly","type":"quantitative","title":"Relative Intensity"},"text":{"field":"l"}}}
]
}
